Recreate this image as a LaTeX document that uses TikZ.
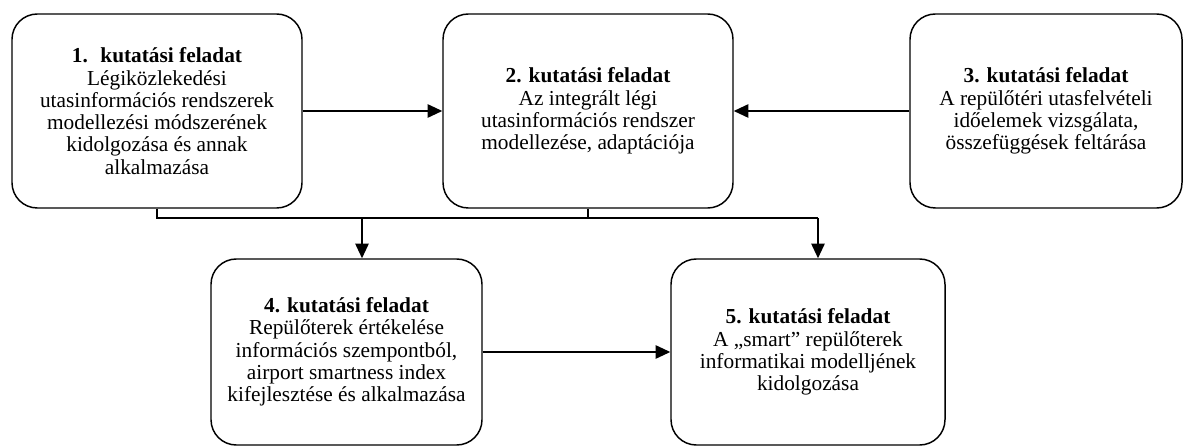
\documentclass[tikz,border=0pt]{standalone}
\usepackage{fontspec}
\setmainfont{Liberation Serif}
\usetikzlibrary{arrows.meta,positioning}

\begin{document}
\begin{tikzpicture}[x=0.75pt,y=-0.75pt,
    feladat/.style={draw,line width=1.1pt,rounded corners=19pt,align=center,
      inner sep=0pt,font=\fontsize{16}{16.7}\selectfont},
    vonal/.style={line width=1.3pt},
    nyil/.style={line width=1.3pt,-{Triangle[length=11pt,width=10pt]}}]
    \useasboundingbox (0,0) rectangle (1194,448);
    % felso sor
    \node[feladat,minimum width=217.5pt,minimum height=145.5pt] (b1) at (157,111)
      {\textbf{1.~ kutatási feladat}\\Légiközlekedési\\utasinformációs rendszerek\\modellezési módszerének\\kidolgozása és annak\\alkalmazása};
    \node[feladat,minimum width=217.5pt,minimum height=145.5pt] (b2) at (588,111)
      {\textbf{2. kutatási feladat}\\Az integrált légi\\utasinformációs rendszer\\modellezése, adaptációja};
    \node[feladat,minimum width=204pt,minimum height=145.5pt] (b3) at (1046,111)
      {\textbf{3. kutatási feladat}\\A repülőtéri utasfelvételi\\időelemek vizsgálata,\\összefüggések feltárása};
    % also sor
    \node[feladat,minimum width=203.25pt,minimum height=139.5pt] (b4) at (346.5,352)
      {\textbf{4. kutatási feladat}\\Repülőterek értékelése\\információs szempontból,\\airport smartness index\\kifejlesztése és alkalmazása};
    \node[feladat,minimum width=205.5pt,minimum height=139.5pt] (b5) at (808,352)
      {\textbf{5. kutatási feladat}\\A „smart” repülőterek\\informatikai modelljének\\kidolgozása};
    % kapcsolatok
    \draw[nyil] (b1.east) -- (b2.west);
    \draw[nyil] (b3.west) -- (b2.east);
    \draw[nyil] (b4.east) -- (b5.west);
    \coordinate (s4) at (362,218);
    \coordinate (s5) at (818,218);
    \draw[vonal] (b1.south) |- (s5);
    \draw[vonal] (b2.south) -- (b2.south |- s5);
    \draw[nyil] (s4) -- (s4 |- b4.north);
    \draw[nyil] (s5) -- (s5 |- b5.north);
\end{tikzpicture}
\end{document}
